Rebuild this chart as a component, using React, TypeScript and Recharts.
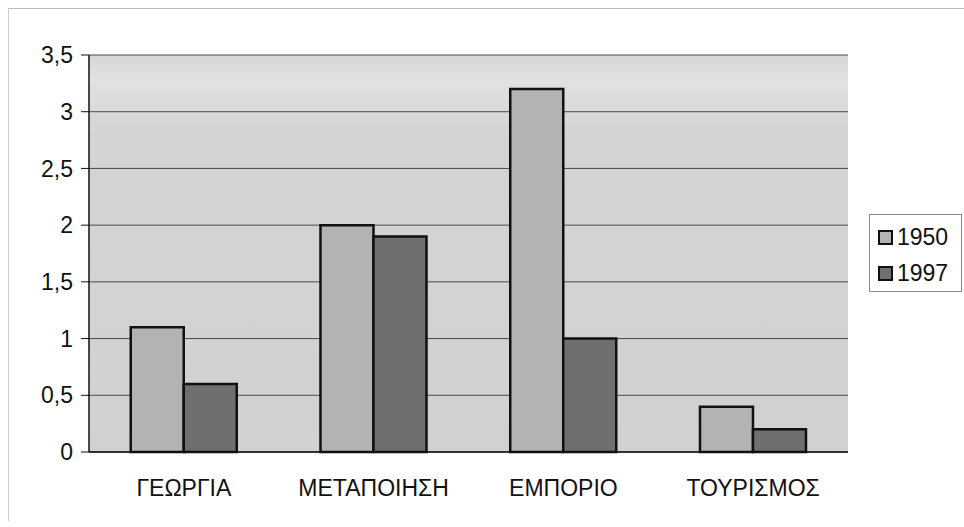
import { BarChart, Bar, XAxis, YAxis, CartesianGrid } from "recharts"

const sectors = ["ΓΕΩΡΓΙΑ", "ΜΕΤΑΠΟΙΗΣΗ", "ΕΜΠΟΡΙΟ", "ΤΟΥΡΙΣΜΟΣ"]
const values1950 = [1.1, 2.0, 3.2, 0.4]
const values1997 = [0.6, 1.9, 1.0, 0.2]
const yTicks = [0, 0.5, 1, 1.5, 2, 2.5, 3, 3.5]

const data = sectors.map((name, i) => ({ name, y1950: values1950[i], y1997: values1997[i] }))

const fmt = (v: number) => String(v).replace(".", ",")

function LegendBox() {
  const items = [
    { label: "1950", color: "#b3b3b3" },
    { label: "1997", color: "#6f6f6f" },
  ]
  return (
    <div
      style={{
        position: "absolute",
        left: 869,
        top: 214,
        width: 93,
        height: 78,
        border: "1px solid #888",
        background: "#fff",
        boxSizing: "border-box",
        padding: "4px 0 0 8px",
      }}
    >
      {items.map((it) => (
        <div key={it.label} style={{ display: "flex", alignItems: "center", height: 36, fontSize: 23, fontFamily: "Liberation Sans, Arial, sans-serif", color: "#111" }}>
          <span style={{ display: "inline-block", width: 11, height: 11, background: it.color, border: "2px solid #111", marginRight: 4 }} />
          {it.label}
        </div>
      ))}
    </div>
  )
}

export default function App() {
  return (
    <div style={{ position: "absolute", left: 0, top: 0, width: 964, height: 527, background: "#fff", fontFamily: "Liberation Sans, Arial, sans-serif" }}>
      <div style={{ position: "absolute", left: 8, top: 8, width: 960, height: 512, borderTop: "1px solid #bbb", borderLeft: "1px solid #ccc" }} />
      <BarChart
        width={964}
        height={527}
        data={data}
        margin={{ top: 55, right: 116, left: 0, bottom: 0 }}
        barCategoryGap="22%"
        barGap={0}
      >
        <defs>
          <linearGradient id="plotBg" x1="0" y1="0" x2="0" y2="1">
            <stop offset="0" stopColor="#d6d6d6" />
            <stop offset="0.06" stopColor="#e2e2e2" />
            <stop offset="0.2" stopColor="#d4d4d4" />
            <stop offset="1" stopColor="#d1d1d1" />
          </linearGradient>
        </defs>
        <CartesianGrid vertical={false} stroke="#4a4a4a" fill="url(#plotBg)" fillOpacity={1} />
        <XAxis
          dataKey="name"
          height={75}
          tickLine={false}
          tickSize={0}
          tickMargin={28}
          axisLine={{ stroke: "#111", strokeWidth: 1.5 }}
          tick={{ fill: "#111", fontSize: 23 }}
        />
        <YAxis
          width={89}
          domain={[0, 3.5]}
          ticks={yTicks}
          tickFormatter={fmt}
          tickSize={8}
          tickMargin={8}
          axisLine={{ stroke: "#111", strokeWidth: 1.5 }}
          tickLine={{ stroke: "#111" }}
          tick={{ fill: "#111", fontSize: 23 }}
        />
        <Bar dataKey="y1950" fill="#b3b3b3" stroke="#111" strokeWidth={2.5} isAnimationActive={false} />
        <Bar dataKey="y1997" fill="#6f6f6f" stroke="#111" strokeWidth={2.5} isAnimationActive={false} />
      </BarChart>
      <LegendBox />
    </div>
  )
}
